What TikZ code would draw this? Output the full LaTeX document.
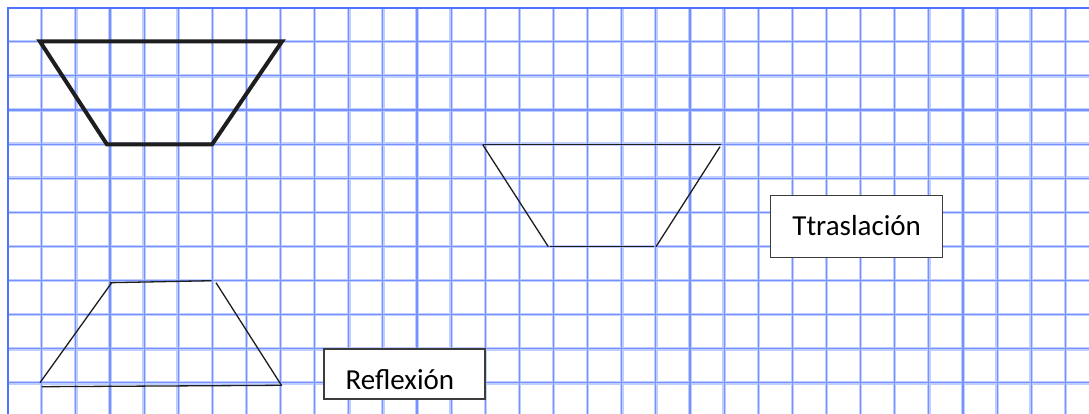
\documentclass[tikz,border=0pt]{standalone}
\usepackage{fontspec}
\setmainfont{Carlito}
\definecolor{gridhalo}{RGB}{192,206,255}
\definecolor{gridline}{RGB}{118,146,255}
\definecolor{gridborder}{RGB}{80,115,255}
\definecolor{boxline}{RGB}{60,60,60}
\definecolor{shapeink}{RGB}{30,30,30}
\tikzset{
  thickshape/.style={draw=shapeink, line width=4pt, line join=miter},
  thinshape/.style={draw=shapeink, line width=1.3pt},
  labelbox/.style={draw=boxline, line width=1.4pt, fill=white, inner sep=0pt, anchor=north west, font=\fontsize{29}{30}\selectfont, align=left},
}
\begin{document}
\begin{tikzpicture}[x=1pt,y=-1pt]
\useasboundingbox (0,0) rectangle (1089,414);
\fill[white] (0,0) rectangle (1089,414);
% grid
\foreach \k in {1,...,31}{
  \draw[gridhalo, line width=3.5pt] ({7.6+34.12*\k},7.6) -- ({7.6+34.12*\k},414);
}
\foreach \k in {1,...,11}{
  \draw[gridhalo, line width=3.5pt] (7.6,{7.6+34.12*\k}) -- (1089,{7.6+34.12*\k});
}
\foreach \k in {1,...,31}{
  \draw[gridline, line width=1.1pt] ({7.6+34.12*\k},7.6) -- ({7.6+34.12*\k},414);
}
\foreach \k in {1,...,11}{
  \draw[gridline, line width=1.1pt] (7.6,{7.6+34.12*\k}) -- (1089,{7.6+34.12*\k});
}
\draw[gridborder, line width=2pt] (7.6,414) -- (7.6,7.6) -- (1089,7.6);
% original trapezoid (thick)
\coordinate (o1) at (40,41.5);
\coordinate (o2) at (282,41.5);
\coordinate (o3) at (212,144.5);
\coordinate (o4) at (107,144.5);
\draw[thickshape] (o1) -- (o2) -- (o3) -- (o4) -- cycle;
% translated trapezoid
\coordinate (t1) at (482.7,144.7);
\coordinate (t2) at (721,144.7);
\coordinate (t3) at (548.3,246.7);
\coordinate (t4) at (550,246.7);
\coordinate (t5) at (654,246.7);
\coordinate (t6) at (656,246.7);
\coordinate (t7) at (720,146.7);
\draw[thinshape] (t1) -- (t2);
\draw[thinshape] (t1) -- (t3);
\draw[thinshape] (t4) -- (t5);
\draw[thinshape] (t6) -- (t7);
% reflected trapezoid
\coordinate (r1) at (110,282.7);
\coordinate (r2) at (211.7,280.7);
\coordinate (r3) at (216,282.7);
\coordinate (r4) at (281.7,385.7);
\coordinate (r5) at (42,386.7);
\coordinate (r6) at (281.7,385.3);
\coordinate (r7) at (40,382.7);
\coordinate (r8) at (111.7,282.7);
\draw[thinshape] (r1) -- (r2);
\draw[thinshape] (r3) -- (r4);
\draw[thinshape] (r5) -- (r6);
\draw[thinshape] (r7) -- (r8);
% labels
\node[labelbox, text width=161pt, text height=40pt, text depth=10pt] (refl) at (323.3,348.3) {\hspace*{21.7pt}Reflexión};
\node[labelbox, text width=171.7pt, text height=39.6pt, text depth=22.4pt] (tras) at (770,194.7) {\hspace*{21.7pt}Ttraslación};
\end{tikzpicture}
\end{document}
